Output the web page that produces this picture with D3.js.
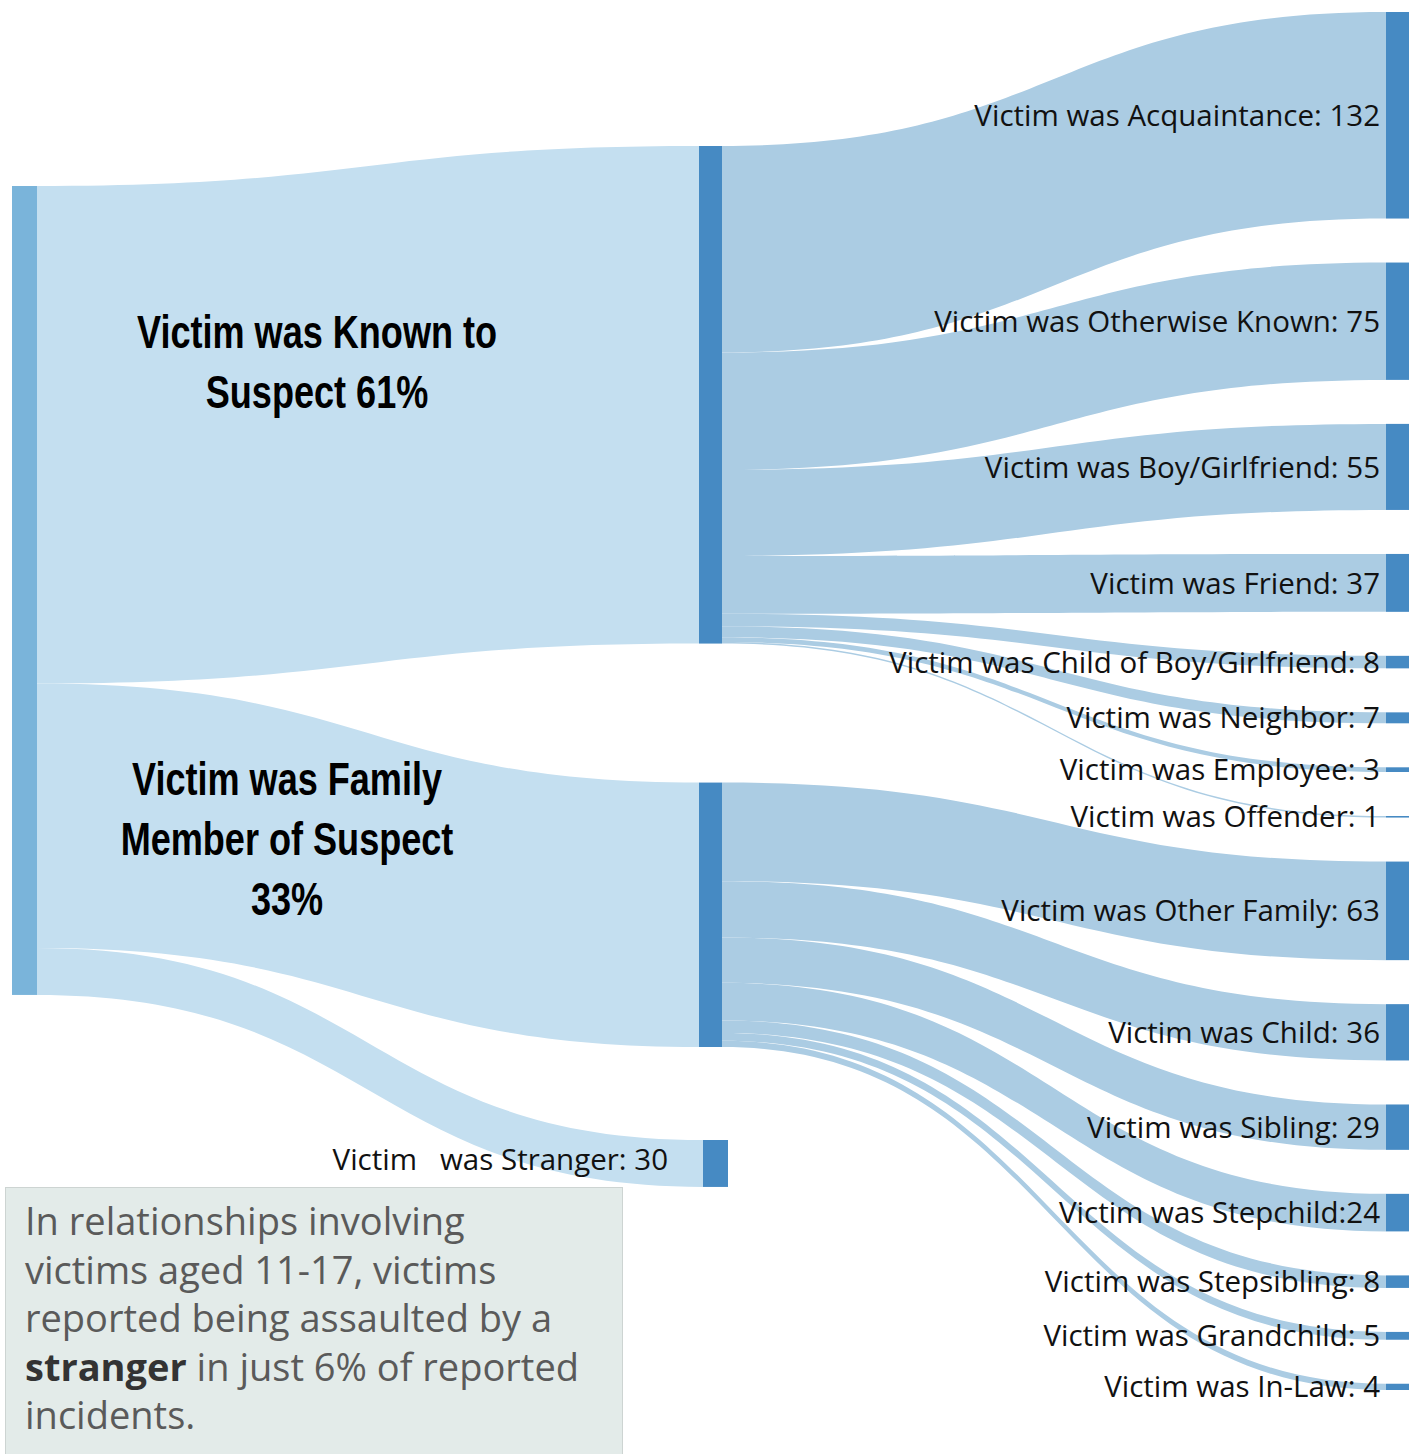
<!DOCTYPE html>
<html><head><meta charset="utf-8">
<script src="https://cdn.jsdelivr.net/npm/d3@7"></script>
<style>body{margin:0;background:#fff}svg{display:block}</style>
</head><body>
<svg id="chart" width="1421" height="1454"></svg>
<script>
// ---------------- data ----------------
const rootNode = "All reported relationships";
const groupNames = ["Victim was Known to Suspect", "Victim was Family Member of Suspect", "Victim was Stranger"];
const groupValues = [318, 169, 30];
const groupLabelLines = [["Victim was Known to", "Suspect 61%"], ["Victim was Family", "Member of Suspect", "33%"]];
const strangerLabel = "Victim   was Stranger: 30";

const knownCategories = ["Victim was Acquaintance", "Victim was Otherwise Known", "Victim was Boy/Girlfriend", "Victim was Friend",
  "Victim was Child of Boy/Girlfriend", "Victim was Neighbor", "Victim was Employee", "Victim was Offender"];
const knownValues = [132, 75, 55, 37, 8, 7, 3, 1];
const knownLabels = ["Victim was Acquaintance: 132", "Victim was Otherwise Known: 75", "Victim was Boy/Girlfriend: 55", "Victim was Friend: 37",
  "Victim was Child of Boy/Girlfriend: 8", "Victim was Neighbor: 7", "Victim was Employee: 3", "Victim was Offender: 1"];

const familyCategories = ["Victim was Other Family", "Victim was Child", "Victim was Sibling", "Victim was Stepchild",
  "Victim was Stepsibling", "Victim was Grandchild", "Victim was In-Law"];
const familyValues = [63, 36, 29, 24, 8, 5, 4];
const familyLabels = ["Victim was Other Family: 63", "Victim was Child: 36", "Victim was Sibling: 29", "Victim was Stepchild:24",
  "Victim was Stepsibling: 8", "Victim was Grandchild: 5", "Victim was In-Law: 4"];

const noteLines = [
  [["In relationships involving", false]],
  [["victims aged 11-17, victims", false]],
  [["reported being assaulted by a", false]],
  [["stranger", true], [" in just 6% of reported", false]],
  [["incidents.", false]]
];

// ---------------- layout ----------------
const svg = d3.select("#chart");
const colX = [12, 699, 1386];
const nodeW = [25, 23, 23];
const rightTop = 12, rightBottom = 1390, rightPad = 44;

const rightValues = knownValues.concat(familyValues);
const rightLabels = knownLabels.concat(familyLabels);
const rightTotal = d3.sum(rightValues);
const totalAll = d3.sum(groupValues);
// value -> pixel height scale, fitted on the right column
const h = d3.scaleLinear().domain([0, rightTotal])
  .range([0, (rightBottom - rightTop) - (rightValues.length - 1) * rightPad]);

// right column nodes
let yy = rightTop;
const rightNodes = rightValues.map((v, i) => {
  const n = {value: v, label: rightLabels[i], x0: colX[2], x1: colX[2] + nodeW[2], y0: yy, y1: yy + h(v),
    group: i < knownValues.length ? 0 : 1};
  yy += h(v) + rightPad;
  return n;
});

// middle column
const midTop = 146, midPads = [139, 93];
const midShift = [0, 0, 4];
yy = midTop;
const midNodes = groupValues.map((v, i) => {
  if (i > 0) yy += midPads[i - 1];
  const x0 = colX[1] + midShift[i];
  const n = {value: v, x0: x0, x1: x0 + nodeW[1] + (i === 2 ? 2 : 0), y0: yy, y1: yy + h(v)};
  yy += h(v);
  return n;
});

// left column
const leftTop = 186;
const leftNode = {value: totalAll, x0: colX[0], x1: colX[0] + nodeW[0], y0: leftTop, y1: leftTop + h(totalAll)};

// links
const links = [];
let sy = leftNode.y0;
midNodes.forEach((m, i) => {
  const w = h(groupValues[i]);
  links.push({sx: leftNode.x1, sy0: sy, sy1: sy + w, tx: m.x0, ty0: m.y0, ty1: m.y1, level: 0});
  sy += w;
});
[0, 1].forEach(g => {
  const m = midNodes[g];
  let s = m.y0;
  rightNodes.filter(r => r.group === g).forEach(r => {
    const w = h(r.value);
    links.push({sx: m.x1, sy0: s, sy1: s + w, tx: r.x0, ty0: r.y0, ty1: r.y1, level: 1});
    s += w;
  });
});

function ribbon(l) {
  const xm = (l.sx + l.tx) / 2;
  const p = d3.path();
  p.moveTo(l.sx, l.sy0);
  p.bezierCurveTo(xm, l.sy0, xm, l.ty0, l.tx, l.ty0);
  p.lineTo(l.tx, l.ty1);
  p.bezierCurveTo(xm, l.ty1, xm, l.sy1, l.sx, l.sy1);
  p.closePath();
  return p.toString();
}

const linkColor = ["#c4dff0", "#abcce3"];
svg.append("g").selectAll("path").data(links).join("path")
  .attr("d", ribbon)
  .attr("fill", d => linkColor[d.level]);

// nodes
svg.append("rect").attr("x", leftNode.x0).attr("y", leftNode.y0)
  .attr("width", leftNode.x1 - leftNode.x0).attr("height", leftNode.y1 - leftNode.y0).attr("fill", "#7ab4da");
svg.append("g").selectAll("rect").data(midNodes.concat(rightNodes)).join("rect")
  .attr("x", d => d.x0).attr("y", d => d.y0)
  .attr("width", d => d.x1 - d.x0).attr("height", d => Math.max(1.2, d.y1 - d.y0))
  .attr("fill", "#468ac3");

// right labels
const labelFont = "'Open Sans', sans-serif";
svg.append("g").selectAll("text").data(rightNodes).join("text")
  .attr("x", d => d.x0 - 6).attr("y", d => (d.y0 + d.y1) / 2).attr("dy", "0.36em")
  .attr("text-anchor", "end")
  .style("font-family", labelFont).style("font-size", "29.5px").attr("fill", "#111")
  .text(d => d.label);

// stranger label
const sn = midNodes[2];
svg.append("text").attr("x", sn.x0 - 35).attr("y", (sn.y0 + sn.y1) / 2 - 4).attr("dy", "0.36em")
  .attr("text-anchor", "end").attr("xml:space", "preserve").style("white-space", "pre")
  .style("font-family", labelFont).style("font-size", "29.5px").attr("fill", "#111")
  .text(strangerLabel);

// big group labels (condensed bold)
const bigPos = [{x: 317, y: 348}, {x: 287, y: 795}];
groupLabelLines.forEach((lines, i) => {
  const g = svg.append("g").attr("transform", `translate(${bigPos[i].x},${bigPos[i].y}) scale(0.82,1.04)`);
  const t = g.append("text").attr("text-anchor", "middle")
    .style("font-family", "'Liberation Sans', Arial, sans-serif")
    .style("font-weight", "bold").style("font-size", "44px").attr("fill", "#000");
  lines.forEach((ln, j) => {
    t.append("tspan").attr("x", 0).attr("y", j * 57.5).text(ln);
  });
});

// annotation box
const box = svg.append("g");
box.append("rect").attr("x", 5.5).attr("y", 1187.5).attr("width", 617).attr("height", 290)
  .attr("fill", "#e3ebe9").attr("stroke", "#cdd4d2").attr("stroke-width", 1);
noteLines.forEach((parts, i) => {
  const t = box.append("text").attr("x", 25).attr("y", 1235 + i * 48.5).attr("xml:space", "preserve")
    .style("font-family", labelFont).style("font-size", "38px").attr("fill", "#5a5a5a");
  parts.forEach(([s, b]) => {
    const sp = t.append("tspan").text(s);
    if (b) sp.style("font-weight", "bold").attr("fill", "#333");
  });
});
</script>
</body></html>
